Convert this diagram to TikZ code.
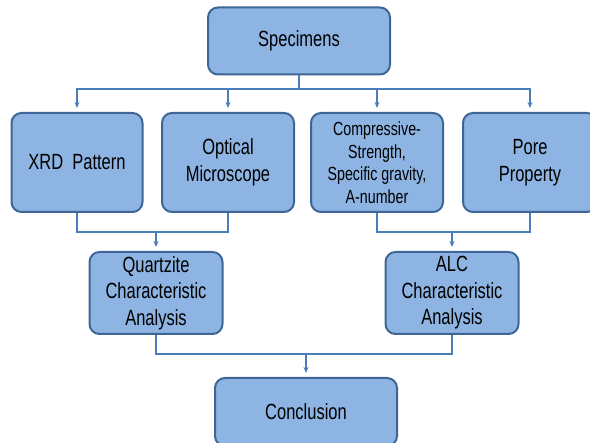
\documentclass[tikz,border=0pt]{standalone}
\usepackage{fontspec}
\setmainfont{Liberation Sans}[FakeStretch=0.75]
\usepackage{tikz}
\usetikzlibrary{calc,arrows.meta,positioning}
\definecolor{boxfill}{HTML}{8DB4E2}
\definecolor{boxline}{HTML}{3D6696}
\definecolor{linec}{HTML}{4A7EBB}
\tikzset{
  ln/.style={linec,line width=1.5pt},
  ar/.style={ln,-{Stealth[length=6pt,width=5pt]},shorten >=4pt},
  box/.style={draw=boxline,line width=2pt,rounded corners=10pt,fill=boxfill,align=center,inner sep=0pt,
    font=\fontsize{22}{26.5}\selectfont},
  small/.style={font=\fontsize{19}{22.5}\selectfont}
}
\begin{document}
\begin{tikzpicture}[x=1pt,y=-1pt]
\useasboundingbox (0,0) rectangle (590,443);
% top
\node[box,minimum width=182pt,minimum height=67pt] (spec) at (299,41) {Specimens};
% second row
\node[box,minimum width=131pt,minimum height=99pt] (xrd) at (77,162.5) {XRD\ \ Pattern};
\node[box,minimum width=132pt,minimum height=99pt] (opt) at (228,162.5) {Optical\\Microscope};
\node[box,small,minimum width=132pt,minimum height=99pt] (comp) at (377,162.5) {Compressive-\\Strength,\\Specific gravity,\\A-number};
\node[box,minimum width=134pt,minimum height=99pt] (pore) at (530,162.5) {Pore\\Property};
% analysis
\node[box,minimum width=133pt,minimum height=82pt] (qa) at (156,293) {Quartzite\\Characteristic\\Analysis};
\node[box,minimum width=133pt,minimum height=82pt] (alc) at (452,293) {ALC\\Characteristic\\Analysis};
% end
\node[box,minimum width=182pt,minimum height=68pt] (conc) at (306,412) {Conclusion};
% connectors
\coordinate (tbus) at (299,89);
\coordinate (lbus) at (156,232);
\coordinate (rbus) at (452,232);
\coordinate (bbus) at (306,354);
\draw[ln] (spec.south) -- (tbus);
\foreach \n in {xrd,opt,comp,pore}{\draw[ar] (tbus) -| (\n.north);}
\draw[ln] (xrd.south) |- (lbus) -| (opt.south);
\draw[ln] (comp.south) |- (rbus) -| (pore.south);
\draw[ar] (lbus) -- (qa.north);
\draw[ar] (rbus) -- (alc.north);
\draw[ln] (qa.south) |- (bbus) -| (alc.south);
\draw[ar] (bbus) -- (conc.north);
\end{tikzpicture}
\end{document}
